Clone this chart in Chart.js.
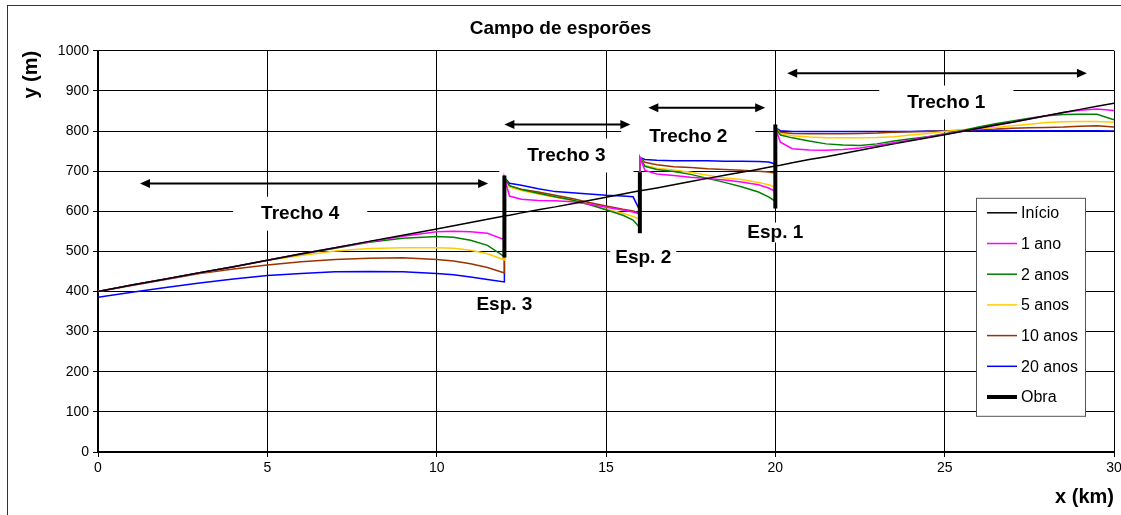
<!DOCTYPE html>
<html lang="pt">
<head>
<meta charset="utf-8">
<title>Campo de esporões</title>
<script src="https://cdn.jsdelivr.net/npm/chart.js@4.4.1/dist/chart.umd.min.js"></script>
<style>
    html, body { margin: 0; padding: 0; background: #fff; }
    #moldura { position: relative; width: 1121px; height: 515px; overflow: hidden; }
    #moldura::before {
        content: ''; position: absolute; left: 7px; top: 5px; right: -10px; bottom: -10px;
        border: 1px solid #333; pointer-events: none;
    }
    canvas { display: block; }
</style>
</head>
<body>
<div id="moldura"><canvas id="chartEsporoes"></canvas></div>
<script>
// Distância ao longo da costa (km) - pontos repetidos em 12, 16 e 20 (esporões)
const xKm = [
    0, 1, 2, 3, 4, 5, 6, 7, 8, 9, 10, 10.5, 11, 11.5, 12,
    12, 12.15, 12.5, 13, 13.5, 14, 14.5, 15, 15.5, 15.8, 16,
    16, 16.15, 16.5, 17, 17.5, 18, 18.5, 19, 19.5, 19.8, 20,
    20, 20.15, 20.5, 21, 21.5, 22, 22.5, 23, 23.5, 24, 24.5, 25, 25.5, 26, 26.5, 27, 27.5, 28, 28.5, 29, 29.5, 30
];

// Posição da linha de costa y (m)
const inicio = [
    400, 416, 431, 447, 462, 478, 494, 509, 525, 540, 556, 564, 572, 580, 588,
    588, 590, 596, 604, 611, 619, 627, 635, 643, 648, 651,
    651, 653, 658, 666, 674, 682, 690, 697, 705, 710, 713,
    713, 715, 721, 729, 736, 744, 752, 760, 768, 776, 783, 791, 799, 807, 815, 822, 830, 838, 846, 854, 862, 869
];
const ano1 = [
    400, 416, 431, 447, 462, 478, 494, 509, 524, 538, 549, 550, 549, 545, 529,
    684, 638, 630, 627, 626, 624, 618, 610, 603, 598, 593,
    734, 702, 693, 689, 685, 682, 678, 673, 666, 658, 650,
    808, 772, 756, 753, 752, 754, 758, 764, 771, 778, 785, 792, 799, 806, 814, 822, 830, 838, 846, 852, 855, 851
];
const anos2 = [
    400, 416, 431, 447, 462, 478, 493, 508, 523, 533, 537, 535, 528, 515, 487,
    684, 664, 654, 645, 636, 628, 617, 604, 590, 578, 559,
    734, 712, 704, 699, 692, 682, 672, 661, 648, 636, 625,
    808, 790, 783, 775, 768, 765, 764, 768, 775, 781, 786, 793, 801, 810, 818, 825, 832, 838, 841, 842, 842, 828
];
const anos5 = [
    400, 416, 431, 446, 461, 477, 490, 501, 507, 509, 509, 508, 503, 494, 479,
    684, 660, 652, 643, 635, 627, 617, 605, 595, 587, 580,
    734, 714, 707, 703, 697, 690, 683, 679, 672, 666, 660,
    808, 793, 788, 785, 783, 783, 783, 784, 786, 790, 794, 799, 803, 806, 809, 813, 817, 821, 823, 824, 824, 822
];
const anos10 = [
    400, 415, 430, 445, 456, 466, 474, 480, 483, 484, 480, 476, 469, 460, 446,
    684, 663, 655, 648, 640, 632, 622, 613, 605, 601, 595,
    734, 722, 716, 711, 709, 706, 704, 702, 700, 698, 695,
    808, 797, 794, 793, 793, 793, 794, 795, 797, 798, 799, 800, 802, 804, 805, 807, 808, 809, 810, 812, 813, 810
];
const anos20 = [
    386, 398, 410, 421, 431, 440, 445, 449, 450, 449, 445, 442, 436, 430, 424,
    684, 670, 665, 656, 649, 646, 643, 640, 638, 636, 602,
    734, 729, 727, 726, 726, 726, 725, 725, 724, 723, 718,
    808, 801, 799, 799, 799, 799, 799, 799, 799, 799, 800, 800, 801, 801, 802, 801, 801, 801, 801, 801, 801, 800
];

// Esporões (obra): posição e extensão
const obraX = [12, 16, 20];
const obraBase = [485, 545, 607];
const obraTopo = [689, 697, 816];

// Anotações
const trechoLabels = ['Trecho 4', 'Trecho 3', 'Trecho 2', 'Trecho 1'];
const trechoX = [5.97, 13.83, 17.43, 25.05];
const trechoY = [594, 739, 786, 871];
const setaIni = [1.24, 12.0, 16.25, 20.35];
const setaFim = [11.52, 15.72, 19.7, 29.2];
const setaY = [669, 816, 858, 944];
const espLabels = ['Esp. 3', 'Esp. 2', 'Esp. 1'];
const espX = [12.0, 16.1, 20.0];
const espY = [366, 485, 547];

const FONTE = '"Liberation Sans", Arial, sans-serif';

function serie(ys) {
    return xKm.map((x, i) => ({ x: x, y: ys[i] }));
}

const obraData = [];
obraX.forEach((x, i) => {
    obraData.push({ x: x, y: obraBase[i] }, { x: x, y: obraTopo[i] }, { x: x, y: null });
});

function caixaTexto(ctx, txt, cx, cy, padX, alt) {
    ctx.font = 'bold 19px ' + FONTE;
    const w = ctx.measureText(txt).width;
    ctx.fillStyle = '#fff';
    ctx.fillRect(cx - w / 2 - padX, cy - alt / 2, w + 2 * padX, alt);
    ctx.fillStyle = '#000';
    ctx.textAlign = 'center';
    ctx.textBaseline = 'middle';
    ctx.fillText(txt, cx, cy);
}

function seta(ctx, x1, x2, y) {
    const L = 10, H = 4.5;
    ctx.strokeStyle = '#000';
    ctx.fillStyle = '#000';
    ctx.lineWidth = 2;
    ctx.beginPath();
    ctx.moveTo(x1 + L - 2, y);
    ctx.lineTo(x2 - L + 2, y);
    ctx.stroke();
    ctx.beginPath();
    ctx.moveTo(x1, y); ctx.lineTo(x1 + L, y - H); ctx.lineTo(x1 + L, y + H); ctx.closePath();
    ctx.fill();
    ctx.beginPath();
    ctx.moveTo(x2, y); ctx.lineTo(x2 - L, y - H); ctx.lineTo(x2 - L, y + H); ctx.closePath();
    ctx.fill();
}

const anotacoes = {
    id: 'anotacoes',
    beforeDatasetsDraw(chart) {
        const ctx = chart.ctx, sx = chart.scales.x, sy = chart.scales.y;
        ctx.save();
        trechoLabels.forEach((t, i) => {
            caixaTexto(ctx, t, sx.getPixelForValue(trechoX[i]), sy.getPixelForValue(trechoY[i]), 28, 34);
        });
        espLabels.forEach((t, i) => {
            caixaTexto(ctx, t, sx.getPixelForValue(espX[i]), sy.getPixelForValue(espY[i]), 5, 20);
        });
        ctx.restore();
    },
    afterDatasetsDraw(chart) {
        const ctx = chart.ctx, sx = chart.scales.x, sy = chart.scales.y;
        ctx.save();
        setaY.forEach((y, i) => {
            seta(ctx, sx.getPixelForValue(setaIni[i]), sx.getPixelForValue(setaFim[i]), sy.getPixelForValue(y));
        });
        ctx.restore();
    },
    afterDraw(chart) {
        // legenda em caixa dentro da área do gráfico
        const ctx = chart.ctx, area = chart.chartArea;
        const left = area.right - 138, top = area.top + 147, w = 109, h = 218;
        ctx.save();
        ctx.fillStyle = '#fff';
        ctx.fillRect(left, top, w, h);
        ctx.strokeStyle = '#555';
        ctx.lineWidth = 1;
        ctx.strokeRect(left + 0.5, top + 0.5, w, h);
        ctx.font = '16px ' + FONTE;
        ctx.textAlign = 'left';
        ctx.textBaseline = 'middle';
        chart.data.datasets.forEach((ds, i) => {
            const y = top + 15 + i * 30.7;
            ctx.strokeStyle = ds.borderColor;
            ctx.lineWidth = ds.borderWidth;
            ctx.beginPath();
            ctx.moveTo(left + 11, y);
            ctx.lineTo(left + 41, y);
            ctx.stroke();
            ctx.fillStyle = '#000';
            ctx.fillText(ds.label, left + 45, y + 1);
        });
        ctx.restore();
    }
};

const linha = (label, ys, cor) => ({
    label: label, data: serie(ys), borderColor: cor, backgroundColor: cor, borderWidth: 1.5
});

new Chart(document.getElementById('chartEsporoes'), {
    type: 'line',
    data: {
        datasets: [
            linha('Início', inicio, '#000000'),
            linha('1 ano', ano1, '#ff00ff'),
            linha('2 anos', anos2, '#008000'),
            linha('5 anos', anos5, '#ffcc00'),
            linha('10 anos', anos10, '#993300'),
            linha('20 anos', anos20, '#0000ff'),
            { label: 'Obra', data: obraData, borderColor: '#000', backgroundColor: '#000', borderWidth: 4, order: -1, spanGaps: false }
        ]
    },
    options: {
        responsive: true,
        maintainAspectRatio: false,
        animation: false,
        elements: { point: { radius: 0 }, line: { tension: 0 } },
        layout: { padding: { left: 0, right: 0, top: 0, bottom: 0 } },
        plugins: {
            legend: { display: false },
            tooltip: { enabled: false },
            title: {
                display: true,
                text: 'Campo de esporões',
                color: '#000',
                font: { family: FONTE, size: 19, weight: 'bold' },
                padding: { top: 17, bottom: 11 }
            }
        },
        scales: {
            x: {
                type: 'linear', min: 0, max: 30,
                ticks: { stepSize: 5, color: '#000', padding: 3, font: { family: FONTE, size: 14 },
                         callback: v => String(v) },
                grid: { color: '#000', lineWidth: 1, tickLength: 5 },
                border: { color: '#000', width: 2 },
                title: { display: true, text: 'x (km)', align: 'end', color: '#000',
                         font: { family: FONTE, size: 20, weight: 'bold' }, padding: { top: 0, bottom: 6 } },
                afterFit(scale) {
                    scale.height = 63;
                    scale.paddingLeft = 0;
                    scale.paddingRight = 7;
                }
            },
            y: {
                min: 0, max: 1000,
                ticks: { stepSize: 100, color: '#000', padding: 4, font: { family: FONTE, size: 14 },
                         callback: v => String(v) },
                grid: { color: '#000', lineWidth: 1, tickLength: 5 },
                border: { color: '#000', width: 1.5 },
                title: { display: true, text: 'y (m)', align: 'end', color: '#000',
                         font: { family: FONTE, size: 20, weight: 'bold' }, padding: { top: 19, bottom: 0 } },
                afterFit(scale) { scale.width = 98; }
            }
        }
    },
    plugins: [anotacoes]
});
</script>
</body>
</html>
